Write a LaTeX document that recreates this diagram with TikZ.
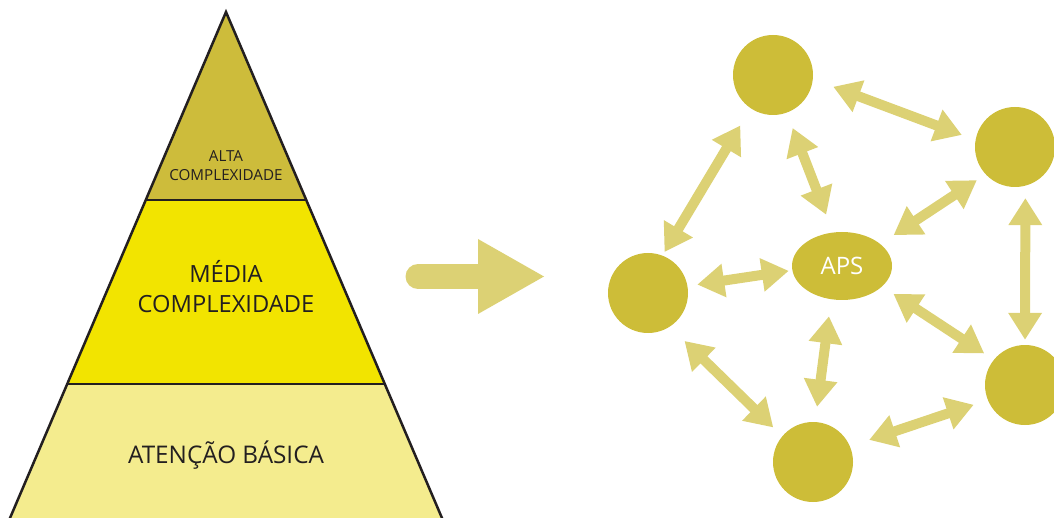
\documentclass[tikz,border=0pt]{standalone}
\usepackage{fontspec}
\setmainfont{Open Sans}
\usetikzlibrary{arrows.meta,shapes.geometric}
\definecolor{gold}{HTML}{CDBD38}
\definecolor{lightarrow}{HTML}{DCD174}
\definecolor{topfill}{HTML}{CDBC3B}
\definecolor{midfill}{HTML}{F2E400}
\definecolor{basefill}{HTML}{F4EC8E}
\definecolor{edgecol}{HTML}{231F20}
\begin{document}
\begin{tikzpicture}[x=1pt,y=-1pt,
  circ/.style={circle,fill=gold,minimum size=80pt,inner sep=0pt},
  apsnode/.style={ellipse,fill=gold,minimum width=100pt,minimum height=68pt,inner sep=0pt,text=white,font=\fontsize{24}{28}\selectfont},
  dbl/.style={draw=lightarrow,line width=10pt,{Triangle[width=32pt,length=27pt]}-{Triangle[width=32pt,length=27pt]}},
  pyrline/.style={draw=edgecol,line width=2.5pt},
  pyrtext/.style={align=center,text=edgecol,inner sep=0pt}
  ]
\useasboundingbox (0,0) rectangle (1054,518);
\clip (0,0) rectangle (1054,518);
% pyramid
\fill[topfill] (226,12) -- (306.25,200) -- (145.75,200) -- cycle;
\fill[midfill] (145.75,200) -- (306.25,200) -- (384.8,384) -- (67.2,384) -- cycle;
\fill[basefill] (67.2,384) -- (384.8,384) -- (447.1,530) -- (4.9,530) -- cycle;
\draw[pyrline,line join=miter] (4.9,530) -- (226,12) -- (447.1,530);
\draw[pyrline] (145.75,200) -- (306.25,200);
\draw[pyrline] (67.2,384) -- (384.8,384);
\node[pyrtext,font=\fontsize{15.2}{19}\selectfont] (alta) at (226,166) {ALTA\\COMPLEXIDADE};
\node[pyrtext,font=\fontsize{23.7}{30}\selectfont] (media) at (226,287) {MÉDIA\\COMPLEXIDADE};
\node[pyrtext,font=\fontsize{24.3}{28}\selectfont] (basica) at (226,455) {ATENÇÃO BÁSICA};
% big arrow
\draw[lightarrow,line width=25pt,line cap=round] (418,276.5) -- (480,276.5);
\fill[lightarrow] (478,239) -- (544,276.5) -- (478,314) -- cycle;
% network
\node[circ] (top) at (773,75) {};
\node[circ] (ru) at (1015,147) {};
\node[circ] (lf) at (648,293) {};
\node[circ] (rl) at (1025,385) {};
\node[circ] (bt) at (813,462) {};
\node[apsnode] (aps) at (842,266) {APS};
\draw[dbl,shorten <=21.6pt,shorten >=14.5pt] (top.-6.5) -- (ru.170);
\draw[dbl,shorten <=19.9pt,shorten >=4.1pt] (top.-124.7) -- (lf.69.7);
\draw[dbl,shorten <=16.3pt,shorten >=18.9pt] (top.-70.9) -- (aps.105.2);
\draw[dbl,shorten <=10.5pt,shorten >=15.9pt] (ru.-137) -- (aps.30.6);
\draw[dbl,shorten <=12.3pt,shorten >=5pt] (ru.-75.5) -- (rl.90);
\draw[dbl,shorten <=9.8pt,shorten >=3.5pt] (lf.10.9) -- (aps.185.2);
\draw[dbl,shorten <=17pt,shorten >=15.2pt] (aps.-108) -- (bt.87.1);
\draw[dbl,shorten <=13.4pt,shorten >=11.4pt] (aps.-27.4) -- (rl.141.9);
\draw[dbl,shorten <=20.4pt,shorten >=12.5pt] (lf.-57.7) -- (bt.140.9);
\draw[dbl,shorten <=20.2pt,shorten >=14.8pt] (bt.23) -- (rl.202.5);
\end{tikzpicture}
\end{document}
